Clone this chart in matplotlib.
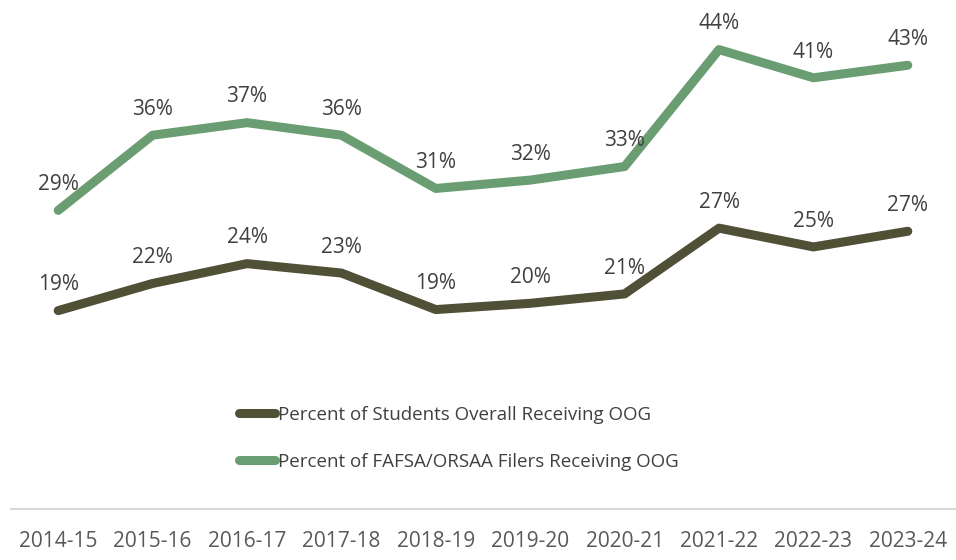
import matplotlib
matplotlib.use("Agg")
import matplotlib.pyplot as plt
from matplotlib.lines import Line2D

years = ["2014-15", "2015-16", "2016-17", "2017-18", "2018-19",
         "2019-20", "2020-21", "2021-22", "2022-23", "2023-24"]
overall = [19.0, 21.6, 23.5, 22.6, 19.1, 19.7, 20.6, 26.9, 25.1, 26.6]
filers = [28.6, 35.8, 37.0, 35.8, 30.7, 31.5, 32.8, 44.0, 41.3, 42.5]
overall_labels = ["19%", "22%", "24%", "23%", "19%", "20%", "21%", "27%", "25%", "27%"]
filers_labels = ["29%", "36%", "37%", "36%", "31%", "32%", "33%", "44%", "41%", "43%"]
series_names = ["Percent of Students Overall Receiving OOG",
                "Percent of FAFSA/ORSAA Filers Receiving OOG"]

DARK = "#4F5036"
GREEN = "#6A9E72"
TEXT = "#404040"
TICK = "#595959"

plt.rcParams['font.family'] = ['Open Sans', 'DejaVu Sans']

fig = plt.figure(figsize=(9.56, 5.6), dpi=100)
ax = fig.add_axes([11 / 956, 51 / 560, 944 / 956, 509 / 560])

x = list(range(len(years)))
ax.plot(x, overall, color=DARK, lw=6.5, solid_capstyle='round', solid_joinstyle='round')
ax.plot(x, filers, color=GREEN, lw=6.5, solid_capstyle='round', solid_joinstyle='round')

for xs, vs, labs in ((x, overall, overall_labels), (x, filers, filers_labels)):
    for xi, v, lab in zip(xs, vs, labs):
        ax.annotate(lab, (xi, v), xytext=(0, 18.5), textcoords='offset points',
                    ha='center', va='center', fontsize=15, color=TEXT)

ax.set_xlim(-0.5, len(years) - 0.5)
ax.set_ylim(0, 48.75)
ax.set_yticks([])
ax.set_xticks(x)
ax.set_xticklabels(years, fontsize=15, color=TICK)
ax.tick_params(axis='x', length=0, pad=16)
for s in ('top', 'right', 'left'):
    ax.spines[s].set_visible(False)
ax.spines['bottom'].set_color('#D9D9D9')
ax.spines['bottom'].set_linewidth(1.5)

h1 = Line2D([], [], color=DARK, lw=6.5, solid_capstyle='round')
h2 = Line2D([], [], color=GREEN, lw=6.5, solid_capstyle='round')
fig.legend([h1, h2], series_names, loc='upper left',
           bbox_to_anchor=(222 / 956, 1 - 389 / 560), frameon=False,
           fontsize=13.5, labelcolor=TEXT, handlelength=1.95, handletextpad=0.15,
           labelspacing=1.55)

fig.savefig("out.png", dpi=100)
